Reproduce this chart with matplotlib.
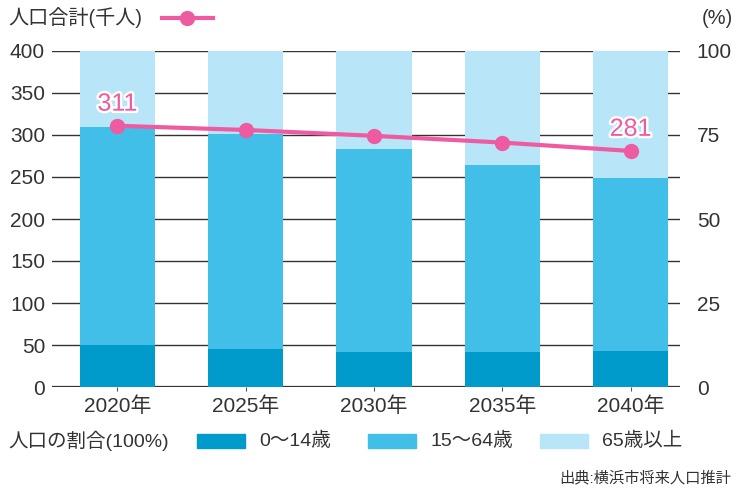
import matplotlib.pyplot as plt
import matplotlib.patheffects as pe
from matplotlib.patches import Rectangle
from matplotlib.lines import Line2D

plt.rcParams['font.family'] = ['Liberation Sans', 'Noto Sans CJK JP', 'DejaVu Sans']

years = ['2020年', '2025年', '2030年', '2035年', '2040年']
young = [12.6, 11.4, 10.5, 10.5, 10.8]       # 0~14歳 (%)
working = [64.9, 63.9, 60.3, 55.6, 51.5]     # 15~64歳 (%)
elderly = [100 - a - b for a, b in zip(young, working)]  # 65歳以上 (%)
total = [311, 306, 299, 291, 281]            # 人口合計 (千人)

c_young = '#009ACB'
c_work = '#41BFE9'
c_old = '#B8E5F8'
c_line = '#EE5BA0'
txt = '#333333'

fig = plt.figure(figsize=(7.39, 4.9), dpi=100)
W, H = 739, 490
ax = fig.add_axes([52 / W, 1 - 387 / H, (680 - 52) / W, (387 - 51) / H])
ax2 = ax.twinx()

x = list(range(len(years)))
# bars on the percentage axis
ax2.bar(x, young, width=0.585, color=c_young, zorder=2)
ax2.bar(x, working, width=0.585, bottom=young, color=c_work, zorder=2)
bot = [a + b for a, b in zip(young, working)]
ax2.bar(x, elderly, width=0.585, bottom=bot, color=c_old, zorder=2)
ax2.set_ylim(0, 100)
ax2.set_yticks([0, 25, 50, 75, 100])

ax.set_ylim(0, 400)
ax.set_yticks(range(0, 401, 50))
ax.set_xlim(-0.51, 4.385)
ax.set_xticks(x)
ax.set_xticklabels(years)

# gridlines drawn on the percentage axis so they sit behind bars
for v in range(0, 401, 50):
    ax2.axhline(v / 4, color='#333333', lw=1.6 if v == 0 else 1.0, zorder=1)

# line on top, in its own layer
ax3 = ax.twinx()
ax3.set_ylim(0, 400)
ax3.axis('off')
ax3.plot(x, total, color=c_line, lw=3, marker='o', ms=10, zorder=5)
for i in (0, 4):
    ax3.text(x[i], total[i] + 12, str(total[i]), ha='center', va='bottom',
             fontsize=18, color=c_line, zorder=6,
             path_effects=[pe.withStroke(linewidth=3.5, foreground='white')])

for a in (ax, ax2):
    for s in a.spines.values():
        s.set_visible(False)
ax.tick_params(axis='y', length=0, labelsize=15, labelcolor=txt, pad=5)
ax.tick_params(axis='x', length=3, color='#555555', labelsize=15, labelcolor=txt, pad=4)
ax2.tick_params(axis='y', length=0, labelsize=15, labelcolor=txt, pad=12)

# top legend
fig.text(8 / W, 1 - 18 / H, '人口合計(千人)', fontsize=14.5, color=txt, va='center', ha='left')
fig.add_artist(Line2D([162 / W, 213 / W], [1 - 18 / H, 1 - 18 / H], color=c_line, lw=3,
                      transform=fig.transFigure))
fig.add_artist(Line2D([187 / W], [1 - 18 / H], color=c_line, marker='o', ms=10,
                      transform=fig.transFigure))
fig.text(733 / W, 1 - 18 / H, '(%)', fontsize=14.5, color=txt, va='center', ha='right')

# bottom legend
ly = 1 - 441 / H
fig.text(8 / W, ly, '人口の割合(100%)', fontsize=14, color=txt, va='center', ha='left')
items = [(c_young, '0～14歳', 197), (c_work, '15～64歳', 368), (c_old, '65歳以上', 540)]
for col, lab, px in items:
    fig.add_artist(Rectangle((px / W, ly - 7 / H), 48 / W, 14 / H, color=col,
                             transform=fig.transFigure))
    fig.text((px + 62) / W, ly, lab, fontsize=14, color=txt, va='center', ha='left')

fig.text(731 / W, 1 - 478 / H, '出典:横浜市将来人口推計', fontsize=11, color=txt,
         va='center', ha='right')

fig.savefig('out.png', dpi=100)
